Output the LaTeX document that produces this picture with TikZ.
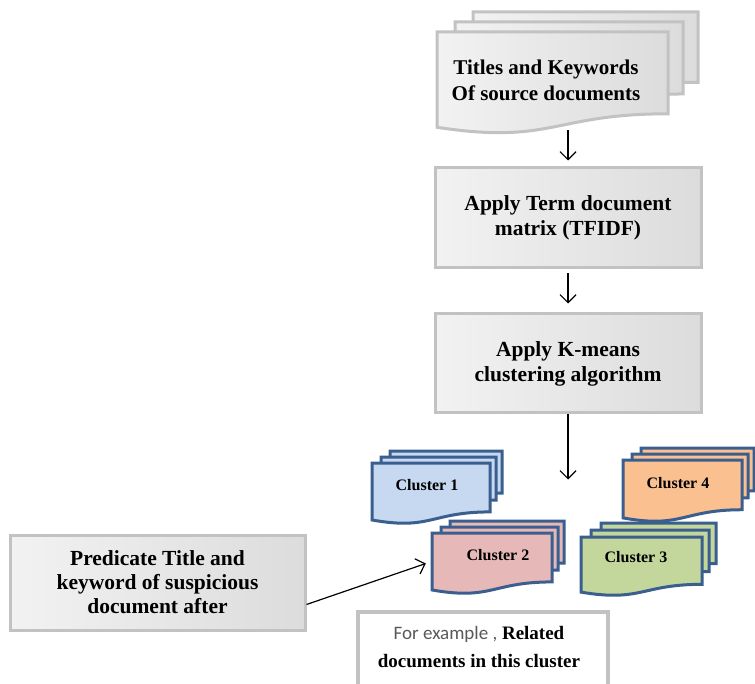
\documentclass[tikz,border=0pt]{standalone}
\usepackage{fontspec}
\setmainfont{Liberation Serif}
\newfontfamily\calib{Carlito}
\usetikzlibrary{arrows.meta,calc}
\definecolor{gborder}{HTML}{C2C2C2}
\definecolor{glight}{HTML}{F2F2F2}
\definecolor{gdark}{HTML}{DCDCDC}
\definecolor{cborder}{HTML}{3A5F8E}
\definecolor{cblue}{HTML}{C6D9F1}
\definecolor{cpink}{HTML}{E6B9B8}
\definecolor{cgreen}{HTML}{C3D69B}
\definecolor{corange}{HTML}{FAC090}
\definecolor{extext}{HTML}{595959}
\tikzset{
  graybox/.style={draw=gborder, line width=3pt, left color=glight, right color=gdark,
    align=center, inner sep=0pt, font=\bfseries\fontsize{21.5}{25}\selectfont},
  topdoc/.style={draw=gborder, line width=3pt, left color=glight, right color=gdark},
  cdoc/.style={draw=cborder, line width=3pt, fill=#1},
  ctext/.style={font=\bfseries\fontsize{16}{18}\selectfont, inner sep=0pt},
  arr/.style={line width=1.2pt, -{Straight Barb[length=8pt,width=16pt]}},
  anchorbox/.style={inner sep=0pt, draw=none, fill=none}
}
\newcommand\onedoc[5]{%
  \draw[#5] ({#1},{#2}) -- ({#1+#3},{#2}) -- ({#1+#3},{#2+0.802*#4})
    .. controls ({#1+0.5*#3},{#2+0.802*#4}) and ({#1+0.5*#3},{#2+1.107*#4})
    .. ({#1},{#2+0.934*#4}) -- cycle;}
\newcommand\mdoc[7]{%
  \onedoc{#1+2*#5}{#2-2*#6}{#3-6}{0.86*#4}{#7}%
  \onedoc{#1+#5}{#2-#6}{#3-3}{0.88*#4}{#7}%
  \onedoc{#1}{#2}{#3}{#4}{#7}}
\begin{document}
\begin{tikzpicture}[x=1pt,y=-1pt]
\clip (0,0) rectangle (755,684);
\useasboundingbox (0,0) rectangle (755,684);
\fill[white] (0,0) rectangle (755,684);

% source documents
\mdoc{437}{32}{231}{102}{18}{10}{topdoc}
\node[anchorbox, minimum width=261pt, minimum height=118pt] (src) at (568,71) {};
\node[align=center, inner sep=0pt, font=\bfseries\fontsize{21}{26}\selectfont] (srctext) at (546,80)
  {Titles and Keywords\\Of source documents};

% process boxes
\node[graybox, minimum width=266pt, minimum height=100pt] (tfidf) at (568,218)
  {Apply Term document\\matrix (TFIDF)};
\node[graybox, minimum width=266pt, minimum height=99pt] (kmeans) at (568,363.5)
  {Apply K-means\\clustering algorithm};

\draw[arr] (src.south) -- ([yshift=6pt]tfidf.north);
\draw[arr] ([yshift=-4pt]tfidf.south) -- ([yshift=9pt]kmeans.north);
\coordinate (clustpt) at ($(kmeans.south)+(0,65)$);
\draw[arr] (kmeans.south) -- (clustpt);

% clusters
\mdoc{372}{463}{118}{61}{9}{6}{cdoc=cblue}
\node[ctext] (c1) at (427,485) {Cluster 1};
\mdoc{623}{460}{119}{62}{9}{6}{cdoc=corange}
\node[ctext] (c4) at (678,483) {Cluster 4};
\mdoc{432}{533}{120}{61}{9}{6}{cdoc=cpink}
\node[ctext] (c2) at (498,555) {Cluster 2};
\node[anchorbox, minimum width=120pt, minimum height=61pt] (c2doc) at (492,563.5) {};
\mdoc{581}{537}{121}{59}{10}{7}{cdoc=cgreen}
\node[ctext] (c3) at (636,557) {Cluster 3};

% predicate box
\node[graybox, minimum width=295pt, minimum height=95pt, font=\bfseries\fontsize{21.5}{24}\selectfont]
  (pred) at (157.5,582.5) {Predicate Title and\\keyword of suspicious\\document after};
\draw[arr] ($(pred.east)+(0,22)$) -- ([xshift=-6pt]c2doc.west);

% example box
\draw[draw=gborder, line width=4pt, fill=white] (358,612) rectangle (608,700);
\node[align=center, inner sep=0pt, font=\bfseries\fontsize{19}{28}\selectfont] (ex) at (479,647)
  {{\calib\mdseries\color{extext}\fontsize{19}{28}\selectfont For example ,} Related\\documents in this cluster};
\end{tikzpicture}
\end{document}
